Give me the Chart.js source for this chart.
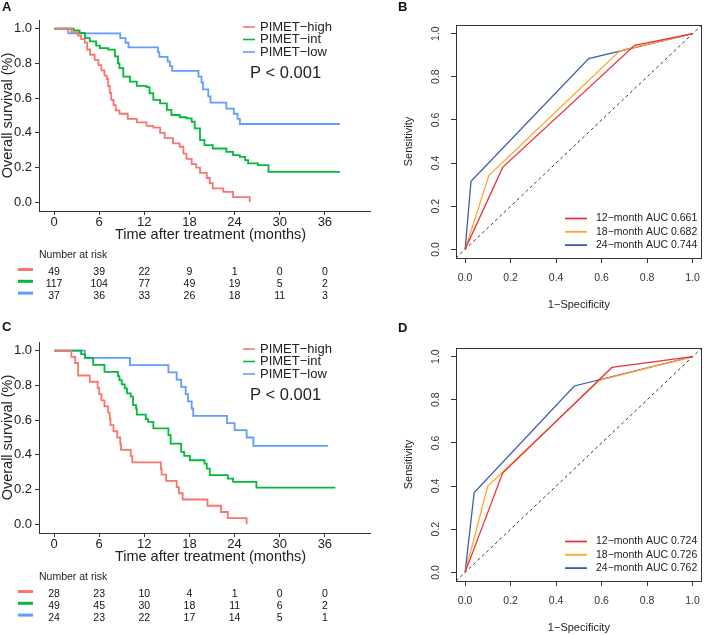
<!DOCTYPE html>
<html>
<head>
<meta charset="utf-8">
<script src="https://cdn.jsdelivr.net/npm/chart.js@4.4.0/dist/chart.umd.min.js"></script>
<style>
html, body { margin: 0; padding: 0; background: #fff; }
#wrap { position: relative; width: 709px; height: 635px; overflow: hidden; background: #fff; }
canvas { position: absolute; }
</style>
</head>
<body>
<div id="wrap">
  <canvas id="kmA" width="372" height="320" style="left:0;top:0;width:372px;height:320px"></canvas>
  <canvas id="rocB" width="349" height="320" style="left:360px;top:0;width:349px;height:320px"></canvas>
  <canvas id="kmC" width="372" height="313" style="left:0;top:322px;width:372px;height:313px"></canvas>
  <canvas id="rocD" width="349" height="312" style="left:360px;top:323px;width:349px;height:312px"></canvas>
</div>
<script>
const FONT = '"Liberation Sans", Arial, sans-serif';

// ---- Kaplan-Meier data ----
const groupNames = ['PIMET−high', 'PIMET−int', 'PIMET−low'];
const kmColors = ['#F8766D', '#00BA38', '#619CFF'];
const kmTicksX = [0, 6, 12, 18, 24, 30, 36];
const kmTicksY = [0, 0.2, 0.4, 0.6, 0.8, 1.0];
const pValueText = 'P < 0.001';

// panel A
const aHighTime = [0, 2.3, 3.2, 3.6, 4.1, 4.4, 4.8, 5.4, 5.9, 6.3, 6.7, 7.0, 7.2, 7.4, 7.6, 7.9, 8.2, 8.7, 9.8, 11.0, 12.3, 13.2, 14.1, 14.7, 15.8, 16.7, 17.2, 17.6, 18.3, 18.9, 19.4, 20.3, 20.7, 21.1, 22.5, 23.8, 26.0];
const aHighSurv = [1.0, 0.98, 0.96, 0.94, 0.92, 0.88, 0.85, 0.82, 0.79, 0.76, 0.73, 0.71, 0.67, 0.63, 0.59, 0.56, 0.53, 0.51, 0.48, 0.46, 0.44, 0.43, 0.40, 0.37, 0.34, 0.32, 0.28, 0.25, 0.22, 0.20, 0.17, 0.14, 0.11, 0.08, 0.06, 0.03, 0.0];
const aIntTime = [0, 2.6, 3.4, 4.1, 4.75, 5.6, 6.1, 7.2, 8.1, 8.5, 8.7, 9.2, 10.1, 11.0, 12.3, 12.7, 13.2, 14.1, 15.0, 15.6, 16.7, 17.6, 18.3, 18.7, 19.4, 20.0, 21.1, 22.9, 23.8, 24.7, 25.4, 25.8, 27.1, 28.5, 38.0];
const aIntSurv = [1.0, 0.99, 0.975, 0.946, 0.927, 0.902, 0.888, 0.879, 0.84, 0.80, 0.773, 0.724, 0.695, 0.671, 0.663, 0.628, 0.59, 0.57, 0.532, 0.503, 0.49, 0.484, 0.464, 0.426, 0.358, 0.329, 0.31, 0.291, 0.272, 0.262, 0.243, 0.224, 0.214, 0.175, 0.175];
const aLowTime = [0, 1.9, 8.8, 9.5, 9.9, 13.8, 14.0, 15.1, 15.4, 15.7, 19.2, 19.6, 19.8, 20.5, 20.8, 22.9, 23.9, 24.4, 24.7, 38.0];
const aLowSurv = [1.0, 0.973, 0.946, 0.919, 0.892, 0.865, 0.838, 0.811, 0.784, 0.757, 0.724, 0.69, 0.65, 0.61, 0.574, 0.54, 0.51, 0.48, 0.451, 0.451];
const aRiskHigh = [49, 39, 22, 9, 1, 0, 0];
const aRiskInt = [117, 104, 77, 49, 19, 5, 2];
const aRiskLow = [37, 36, 33, 26, 18, 11, 3];

// panel C
const cHighTime = [0, 2.3, 2.8, 3.2, 4.75, 5.8, 6.0, 6.3, 6.7, 7.2, 7.4, 7.5, 7.9, 8.4, 8.8, 8.9, 10.2, 10.4, 14.2, 14.3, 14.9, 16.3, 16.6, 17.1, 20.4, 22.2, 23.1, 25.6];
const cHighSurv = [1.0, 0.964, 0.929, 0.857, 0.821, 0.786, 0.75, 0.714, 0.679, 0.643, 0.607, 0.571, 0.536, 0.5, 0.464, 0.429, 0.393, 0.357, 0.32, 0.286, 0.25, 0.214, 0.179, 0.143, 0.107, 0.071, 0.036, 0.0];
const cIntTime = [0, 3.6, 4.1, 5.2, 6.7, 8.5, 8.7, 9.0, 9.4, 9.7, 10.2, 10.5, 10.9, 11.0, 12.2, 12.5, 13.2, 15.2, 15.5, 16.9, 17.3, 18.05, 20.0, 20.3, 20.7, 23.1, 23.8, 26.9, 37.4];
const cIntSurv = [1.0, 0.98, 0.959, 0.918, 0.878, 0.854, 0.831, 0.806, 0.783, 0.754, 0.735, 0.687, 0.667, 0.632, 0.606, 0.59, 0.552, 0.514, 0.465, 0.417, 0.394, 0.369, 0.35, 0.321, 0.283, 0.263, 0.244, 0.211, 0.211];
const cLowTime = [0, 4.1, 10.1, 15.2, 16.3, 16.9, 17.5, 17.8, 18.3, 18.5, 23.0, 24.0, 25.6, 26.5, 36.4];
const cLowSurv = [1.0, 0.958, 0.917, 0.875, 0.833, 0.792, 0.75, 0.708, 0.667, 0.625, 0.583, 0.542, 0.5, 0.452, 0.452];
const cRiskHigh = [28, 23, 10, 4, 1, 0, 0];
const cRiskInt = [49, 45, 30, 18, 11, 6, 2];
const cRiskLow = [24, 23, 22, 17, 14, 5, 1];

// ---- ROC data ----
const rocTicks = [0, 0.2, 0.4, 0.6, 0.8, 1.0];
const rocNames = ['12−month AUC', '18−month AUC', '24−month AUC'];
const rocColors = ['#E8333C', '#FFA52A', '#3A5DAE'];
const chanceLine = [-0.04, 1.04];

const bAuc = [0.661, 0.682, 0.744];
const b12Fpr = [0, 0.165, 0.745, 1];
const b12Tpr = [0, 0.38, 0.946, 1];
const b18Fpr = [0, 0.105, 0.68, 1];
const b18Tpr = [0, 0.343, 0.92, 1];
const b24Fpr = [0, 0.026, 0.543, 1];
const b24Tpr = [0, 0.316, 0.884, 1];

const dAuc = [0.724, 0.726, 0.762];
const d12Fpr = [0, 0.165, 0.645, 1];
const d12Tpr = [0, 0.46, 0.95, 1];
const d18Fpr = [0, 0.1, 0.59, 1];
const d18Tpr = [0, 0.4, 0.89, 1];
const d24Fpr = [0, 0.04, 0.48, 1];
const d24Tpr = [0, 0.37, 0.864, 1];

const toXY = (xs, ys) => xs.map((x, i) => ({ x: x, y: ys[i] }));

function kmPlugin(label, labelY, risk) {
    return {
        id: 'kmExtras',
        afterDraw(chart) {
            const ctx = chart.ctx;
            const xs = chart.scales.x;
            const area = chart.chartArea;
            ctx.save();
            ctx.textBaseline = 'middle';
            ctx.textAlign = 'left';
            ctx.fillStyle = '#111';
            ctx.font = 'bold 13px ' + FONT;
            ctx.fillText(label, 2, labelY);

            // legend in the upper right
            ctx.font = '13px ' + FONT;
            groupNames.forEach((name, i) => {
                const y = 27 + i * 12.5;
                ctx.strokeStyle = kmColors[i];
                ctx.lineWidth = 1.6;
                ctx.beginPath();
                ctx.moveTo(243, y);
                ctx.lineTo(255, y);
                ctx.stroke();
                ctx.fillStyle = '#222';
                ctx.fillText(name, 260, y);
            });
            ctx.font = '16.5px ' + FONT;
            ctx.fillText(pValueText, 250, 73);

            // axis titles
            ctx.font = '14.5px ' + FONT;
            ctx.save();
            ctx.translate(8, (area.top + area.bottom) / 2);
            ctx.rotate(-Math.PI / 2);
            ctx.textAlign = 'center';
            ctx.fillText('Overall survival (%)', 0, 0);
            ctx.restore();
            ctx.textAlign = 'center';
            ctx.fillText('Time after treatment (months)', 210.5, 235);

            // number at risk table
            ctx.textAlign = 'left';
            ctx.font = '10.5px ' + FONT;
            ctx.fillText('Number at risk', 39, 255);
            ctx.textAlign = 'center';
            risk.forEach((row, i) => {
                ctx.strokeStyle = kmColors[i];
                ctx.lineWidth = 3;
                ctx.beginPath();
                ctx.moveTo(18, 269.5 + i * 11.8);
                ctx.lineTo(33, 269.5 + i * 11.8);
                ctx.stroke();
                ctx.fillStyle = '#111';
                row.forEach((n, j) => {
                    ctx.fillText(String(n), xs.getPixelForValue(kmTicksX[j]), 272.5 + i * 12);
                });
            });
            ctx.restore();
        }
    };
}

function makeKm(id, label, labelY, groups, risk) {
    const el = document.getElementById(id);
    const H = el.height;
    return new Chart(el, {
        type: 'line',
        data: {
            datasets: groups.map((g, i) => ({
                label: groupNames[i],
                data: toXY(g[0], g[1]),
                borderColor: kmColors[i],
                borderWidth: 1.8,
                pointRadius: 0,
                stepped: true,
                fill: false
            }))
        },
        options: {
            responsive: false,
            animation: false,
            devicePixelRatio: 1,
            layout: { padding: { top: 20, right: 2, left: 0, bottom: 0 } },
            plugins: { legend: { display: false }, tooltip: { enabled: false } },
            scales: {
                x: {
                    type: 'linear', min: -2, max: 42,
                    afterBuildTicks: s => { s.ticks = kmTicksX.map(v => ({ value: v })); },
                    afterFit: s => { s.height = H - 211; },
                    grid: { drawOnChartArea: false, tickLength: 4, color: '#333' },
                    border: { color: '#333', width: 1 },
                    ticks: { font: { size: 13, family: FONT }, color: '#222', padding: 0, maxRotation: 0, autoSkip: false, callback: v => String(v) }
                },
                y: {
                    type: 'linear', min: -0.05, max: 1.05,
                    afterBuildTicks: s => { s.ticks = kmTicksY.map(v => ({ value: v })); },
                    afterFit: s => { s.width = 39; },
                    grid: { drawOnChartArea: false, tickLength: 4, color: '#333' },
                    border: { color: '#333', width: 1 },
                    ticks: { font: { size: 13, family: FONT }, color: '#222', padding: 3, callback: v => v.toFixed(1) }
                }
            }
        },
        plugins: [kmPlugin(label, labelY, risk)]
    });
}

function rocPlugin(label, labelY, aucs) {
    return {
        id: 'rocExtras',
        afterDraw(chart) {
            const ctx = chart.ctx;
            const area = chart.chartArea;
            const ys = chart.scales.y;
            ctx.save();
            ctx.strokeStyle = '#333';
            ctx.lineWidth = 1;
            ctx.strokeRect(Math.round(area.left) + 0.5, Math.round(area.top) + 0.5,
                Math.round(area.right - area.left) - 1, Math.round(area.bottom - area.top));

            ctx.textBaseline = 'middle';
            ctx.fillStyle = '#111';
            ctx.textAlign = 'left';
            ctx.font = 'bold 13px ' + FONT;
            ctx.fillText(label, 38, labelY);

            // rotated y tick labels, R style
            ctx.font = '10.5px ' + FONT;
            ctx.fillStyle = '#333';
            rocTicks.forEach(v => {
                ctx.save();
                ctx.translate(76, ys.getPixelForValue(v));
                ctx.rotate(-Math.PI / 2);
                ctx.textAlign = 'center';
                ctx.fillText(v.toFixed(1), 0, 0);
                ctx.restore();
            });

            // axis titles
            ctx.font = '11px ' + FONT;
            ctx.fillStyle = '#222';
            ctx.save();
            ctx.translate(49, (area.top + area.bottom) / 2);
            ctx.rotate(-Math.PI / 2);
            ctx.textAlign = 'center';
            ctx.fillText('Sensitivity', 0, 0);
            ctx.restore();
            ctx.textAlign = 'center';
            ctx.fillText('1−Specificity', (area.left + area.right) / 2, 305);

            // legend
            ctx.textAlign = 'left';
            ctx.font = '10.5px ' + FONT;
            rocNames.forEach((name, i) => {
                const y = 218.5 + i * 13.3;
                ctx.strokeStyle = rocColors[i];
                ctx.lineWidth = 1.8;
                ctx.beginPath();
                ctx.moveTo(205, y);
                ctx.lineTo(227, y);
                ctx.stroke();
                ctx.fillStyle = '#222';
                ctx.fillText(name + ' ' + aucs[i].toFixed(3), 236, y);
            });
            ctx.restore();
        }
    };
}

function makeRoc(id, label, labelY, curves, aucs) {
    const el = document.getElementById(id);
    const H = el.height;
    const sets = curves.map((c, i) => ({
        label: rocNames[i],
        data: toXY(c[0], c[1]),
        borderColor: rocColors[i],
        borderWidth: 1.3,
        pointRadius: 0,
        fill: false
    }));
    sets.push({
        label: 'chance',
        data: toXY(chanceLine, chanceLine),
        borderColor: '#333',
        borderWidth: 1,
        borderDash: [3, 3],
        pointRadius: 0,
        fill: false
    });
    return new Chart(el, {
        type: 'line',
        data: { datasets: sets },
        options: {
            responsive: false,
            animation: false,
            devicePixelRatio: 1,
            layout: { padding: { top: 25, right: 1, left: 0, bottom: 0 } },
            plugins: { legend: { display: false }, tooltip: { enabled: false } },
            scales: {
                x: {
                    type: 'linear', min: -0.04, max: 1.04,
                    afterBuildTicks: s => { s.ticks = rocTicks.map(v => ({ value: v })); },
                    afterFit: s => { s.height = H - 258; },
                    grid: { drawOnChartArea: false, tickLength: 5, color: '#333' },
                    border: { display: false },
                    ticks: { font: { size: 10.5, family: FONT }, color: '#333', padding: 9, maxRotation: 0, autoSkip: false, callback: v => v.toFixed(1) }
                },
                y: {
                    type: 'linear', min: -0.04, max: 1.04,
                    afterBuildTicks: s => { s.ticks = rocTicks.map(v => ({ value: v })); },
                    afterFit: s => { s.width = 96; },
                    grid: { drawOnChartArea: false, tickLength: 5, color: '#333' },
                    border: { display: false },
                    ticks: { display: false }
                }
            }
        },
        plugins: [rocPlugin(label, labelY, aucs)]
    });
}

makeKm('kmA', 'A', 7, [[aHighTime, aHighSurv], [aIntTime, aIntSurv], [aLowTime, aLowSurv]], [aRiskHigh, aRiskInt, aRiskLow]);
makeKm('kmC', 'C', 5.5, [[cHighTime, cHighSurv], [cIntTime, cIntSurv], [cLowTime, cLowSurv]], [cRiskHigh, cRiskInt, cRiskLow]);
makeRoc('rocB', 'B', 7.5, [[b12Fpr, b12Tpr], [b18Fpr, b18Tpr], [b24Fpr, b24Tpr]], bAuc);
makeRoc('rocD', 'D', 5, [[d12Fpr, d12Tpr], [d18Fpr, d18Tpr], [d24Fpr, d24Tpr]], dAuc);
</script>
</body>
</html>
